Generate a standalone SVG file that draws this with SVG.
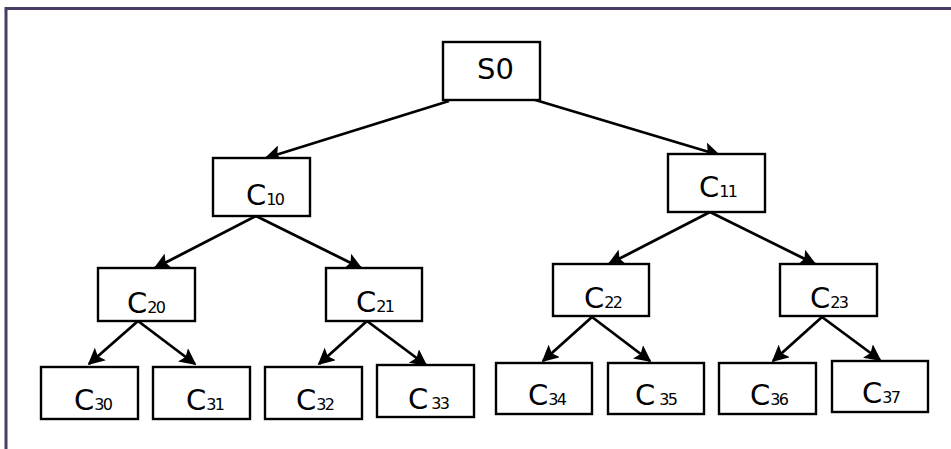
<svg xmlns="http://www.w3.org/2000/svg" width="951" height="449" viewBox="0 0 951 449">
  <defs>
    <marker id="ah" viewBox="0 0 10 10" refX="9" refY="5" markerWidth="6" markerHeight="6" markerUnits="strokeWidth" orient="auto">
      <path d="M0,0 L10,5 L0,10 L2,5 Z" fill="#000"/>
    </marker>
    <style>
      .box { fill: #fff; stroke: #000; stroke-width: 2.4; }
      .lbl { font-family: "DejaVu Sans", "Liberation Sans", sans-serif; font-size: 29px; fill: #000; }
      .sub { font-size: 16px; letter-spacing: -1.8px; }
      .edge { stroke: #000; stroke-width: 2.8; fill: none; marker-end: url(#ah); }
    </style>
  </defs>
  <rect width="951" height="449" fill="#fff"/>
  <!-- frame -->
  <path d="M6,449 V8.5 H951" fill="none" stroke="#4a3c62" stroke-width="3"/>

  <g id="connectors">
    <line class="edge" x1="449" y1="101" x2="266" y2="158"/>
    <line class="edge" x1="532" y1="99" x2="719" y2="155"/>
    <line class="edge" x1="256" y1="216" x2="155" y2="268"/>
    <line class="edge" x1="256" y1="216" x2="361" y2="268"/>
    <line class="edge" x1="710" y1="212" x2="609" y2="264"/>
    <line class="edge" x1="710" y1="212" x2="815" y2="264"/>
    <line class="edge" x1="138" y1="321" x2="89" y2="364"/>
    <line class="edge" x1="138" y1="321" x2="195" y2="364"/>
    <line class="edge" x1="367" y1="321" x2="319" y2="364"/>
    <line class="edge" x1="367" y1="321" x2="426" y2="365"/>
    <line class="edge" x1="592" y1="317" x2="543" y2="361"/>
    <line class="edge" x1="592" y1="317" x2="650" y2="361"/>
    <line class="edge" x1="822" y1="317" x2="773" y2="361"/>
    <line class="edge" x1="822" y1="317" x2="880" y2="360"/>
  </g>

  <g id="S0">
    <rect class="box" x="443" y="42" width="97" height="58"/>
    <text class="lbl" x="477" y="79" font-size="26">S0</text>
  </g>
  <g id="C10">
    <rect class="box" x="213" y="158" width="97" height="58"/>
    <text class="lbl" x="246" y="205">C<tspan class="sub">10</tspan></text>
  </g>
  <g id="C11">
    <rect class="box" x="668" y="154" width="97" height="58"/>
    <text class="lbl" x="699" y="197">C<tspan class="sub">11</tspan></text>
  </g>
  <g id="C20">
    <rect class="box" x="98" y="268" width="97" height="53"/>
    <text class="lbl" x="127" y="313">C<tspan class="sub">20</tspan></text>
  </g>
  <g id="C21">
    <rect class="box" x="326" y="268" width="96" height="53"/>
    <text class="lbl" x="356" y="312">C<tspan class="sub">21</tspan></text>
  </g>
  <g id="C22">
    <rect class="box" x="553" y="264" width="96" height="52"/>
    <text class="lbl" x="584" y="308">C<tspan class="sub" letter-spacing="0">22</tspan></text>
  </g>
  <g id="C23">
    <rect class="box" x="780" y="264" width="97" height="52"/>
    <text class="lbl" x="810" y="308">C<tspan class="sub">23</tspan></text>
  </g>
  <g id="C30">
    <rect class="box" x="41" y="367" width="97" height="52"/>
    <text class="lbl" x="74" y="410">C<tspan class="sub">30</tspan></text>
  </g>
  <g id="C31">
    <rect class="box" x="153" y="367" width="97" height="52"/>
    <text class="lbl" x="186" y="410">C<tspan class="sub">31</tspan></text>
  </g>
  <g id="C32">
    <rect class="box" x="265" y="367" width="97" height="52"/>
    <text class="lbl" x="296" y="410">C<tspan class="sub">32</tspan></text>
  </g>
  <g id="C33">
    <rect class="box" x="377" y="365" width="97" height="52"/>
    <text class="lbl" x="408" y="409">C<tspan class="sub" letter-spacing="0" dx="3">33</tspan></text>
  </g>
  <g id="C34">
    <rect class="box" x="496" y="363" width="96" height="51"/>
    <text class="lbl" x="528" y="405">C<tspan class="sub">34</tspan></text>
  </g>
  <g id="C35">
    <rect class="box" x="608" y="363" width="96" height="51"/>
    <text class="lbl" x="635" y="405">C<tspan class="sub" dx="4">35</tspan></text>
  </g>
  <g id="C36">
    <rect class="box" x="719" y="363" width="97" height="51"/>
    <text class="lbl" x="750" y="405">C<tspan class="sub">36</tspan></text>
  </g>
  <g id="C37">
    <rect class="box" x="832" y="361" width="96" height="51"/>
    <text class="lbl" x="862" y="403">C<tspan class="sub">37</tspan></text>
  </g>
</svg>
